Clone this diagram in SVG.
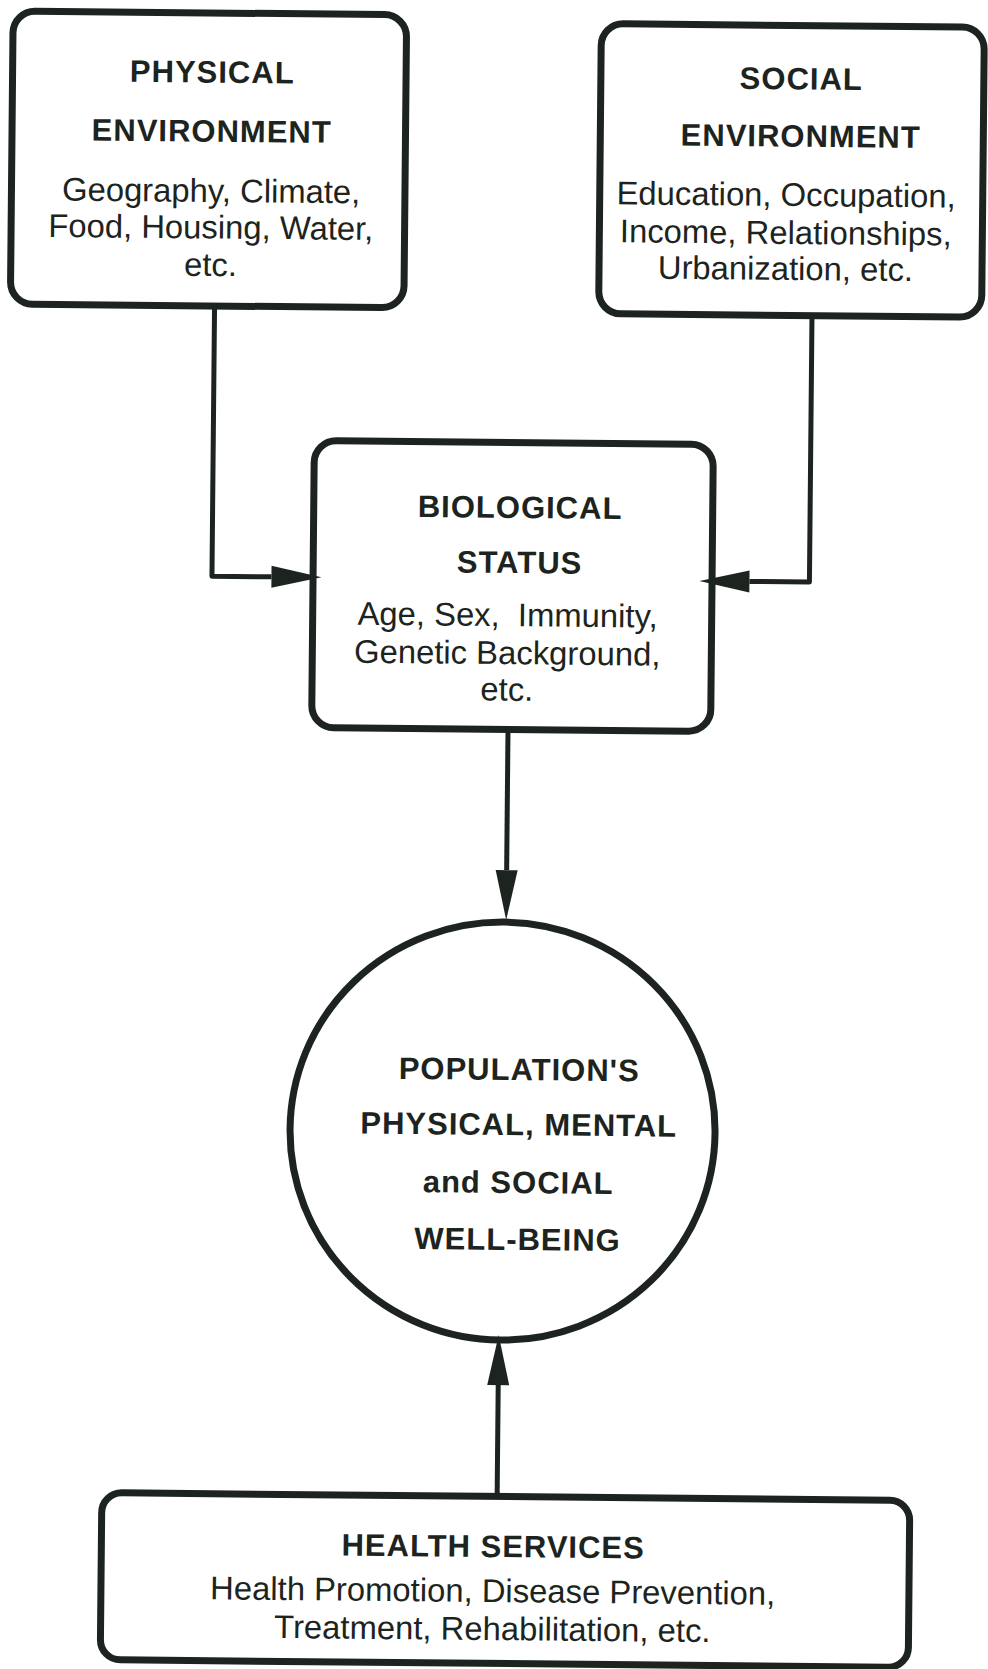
<svg xmlns="http://www.w3.org/2000/svg" width="988" height="1669" viewBox="0 0 988 1669">
<style>
.box{fill:#fff;stroke:#1d2420;stroke-width:7;}
.conn{fill:none;stroke:#1d2420;stroke-width:5;stroke-linejoin:round;}
.h{font-family:"Liberation Sans",Arial,Helvetica,sans-serif;font-weight:bold;font-size:31px;letter-spacing:1px;fill:#1d2420;text-anchor:middle;}
.b{font-family:"Liberation Sans",Arial,Helvetica,sans-serif;font-size:32.8px;fill:#1d2420;text-anchor:middle;}
</style>
<defs>
<marker id="ah" markerUnits="userSpaceOnUse" markerWidth="50" markerHeight="22" refX="0" refY="11" orient="auto" overflow="visible">
<path d="M0,0 L50,11 L0,22 Z" fill="#1d2420"/>
</marker>
</defs>
<rect width="988" height="1669" fill="#fff"/>
<g id="page" transform="rotate(0.55 494 834)">
<g id="physical-environment">
<rect class="box" x="5.3" y="15.7" width="393.5" height="293" rx="22"/>
<text class="h" x="205" y="85.4">PHYSICAL</text>
<text class="h" x="205" y="144.4">ENVIRONMENT</text>
<text class="b" x="205" y="204.7">Geography, Climate,</text>
<text class="b" x="205" y="241.2">Food, Housing, Water,</text>
<text class="b" x="205" y="278.7">etc.</text>
</g>
<g id="social-environment">
<rect class="box" x="593.6" y="22.6" width="383" height="290" rx="22"/>
<text class="h" x="794" y="86.4">SOCIAL</text>
<text class="h" x="794" y="143.8">ENVIRONMENT</text>
<text class="b" x="780" y="203.1">Education, Occupation,</text>
<text class="b" x="780" y="241.1">Income, Relationships,</text>
<text class="b" x="780" y="277.1">Urbanization, etc.</text>
</g>
<g id="biological-status">
<rect class="box" x="310.6" y="442.3" width="399" height="287" rx="22"/>
<text class="h" x="517" y="517.7">BIOLOGICAL</text>
<text class="h" x="517" y="572.8">STATUS</text>
<text class="b" x="505.5" y="626" xml:space="preserve">Age, Sex,  Immunity,</text>
<text class="b" x="505.5" y="664">Genetic Background,</text>
<text class="b" x="505.5" y="700.5">etc.</text>
</g>
<g id="well-being">
<ellipse class="box" cx="505.4" cy="1131" rx="212.5" ry="209"/>
<text class="h" x="521.5" y="1079.8">POPULATION'S</text>
<text class="h" x="521.5" y="1134.8">PHYSICAL, MENTAL</text>
<text class="h" x="521.5" y="1192.8">and SOCIAL</text>
<text class="h" x="521.5" y="1249.8">WELL-BEING</text>
</g>
<g id="health-services">
<rect class="box" x="108.2" y="1496.4" width="808" height="167" rx="20"/>
<text class="h" x="500" y="1557">HEALTH SERVICES</text>
<text class="b" x="500" y="1602">Health Promotion, Disease Prevention,</text>
<text class="b" x="500" y="1640">Treatment, Rehabilitation, etc.</text>
</g>
<g id="connectors">
<path class="conn" d="M209.5 309 V579 H269" marker-end="url(#ah)"/>
<path class="conn" d="M807 312.6 V579 H747" marker-end="url(#ah)"/>
<path class="conn" d="M507 729.3 V870" marker-end="url(#ah)"/>
<path class="conn" d="M503.5 1496.4 V1385" marker-end="url(#ah)"/>
</g>
</g>
</svg>
